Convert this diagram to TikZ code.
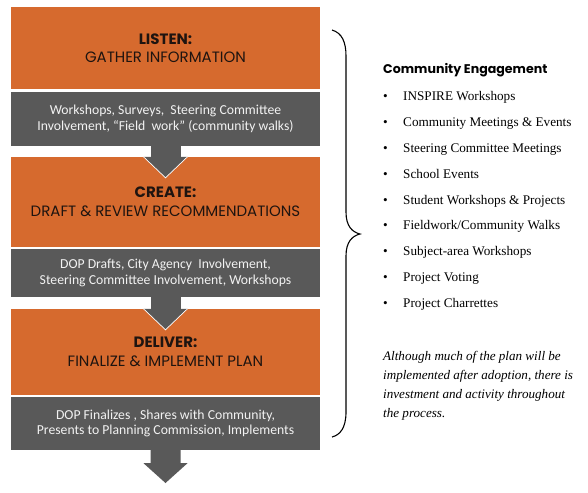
\documentclass[tikz,border=0pt]{standalone}
\usepackage{fontspec}
\setmainfont{Liberation Serif}
\newfontfamily\titlefont{Poppins}
\newfontfamily\infofont{Carlito}
\usetikzlibrary{calc}
\definecolor{stageorange}{HTML}{D66A2E}
\definecolor{infogray}{HTML}{595959}
\definecolor{titleink}{HTML}{1E1410}
\definecolor{infoink}{HTML}{F2F2F2}
\begin{document}
\begin{tikzpicture}[x=1pt,y=-1pt,
  stagebox/.style={fill=stageorange, minimum width=309pt, inner sep=0pt, align=center,
    text=titleink, font=\titlefont\fontsize{15}{18.5}\selectfont},
  infobox/.style={fill=infogray, minimum width=309pt, inner sep=0pt, align=center,
    text=infoink, font=\infofont\fontsize{13.7}{15.5}\selectfont},
  itemtext/.style={anchor=base west, inner sep=0pt, font=\fontsize{13.2}{15}\selectfont},
  flowarrow/.style={fill=infogray}]
\useasboundingbox (0,0) rectangle (588,492);
\fill[white] (0,0) rectangle (588,492);
% stage boxes
\node[stagebox, minimum height=82pt] (listen) at (165.5,48) {\textbf{LISTEN:}\\GATHER INFORMATION};
\node[infobox, minimum height=54pt] (info1) at (165.5,119) {Workshops, Surveys,\ \ Steering Committee\\Involvement, “Field\ \ work” (community walks)};
\node[stagebox, minimum height=90pt] (create) at (165.5,202) {\textbf{CREATE:}\\DRAFT \& REVIEW RECOMMENDATIONS};
\node[infobox, minimum height=48pt] (info2) at (165.5,273) {DOP Drafts, City Agency\ \ Involvement,\\Steering Committee Involvement, Workshops};
\node[stagebox, minimum height=86pt] (deliver) at (165.5,352) {\textbf{DELIVER:}\\FINALIZE \& IMPLEMENT PLAN};
\node[infobox, minimum height=53pt] (info3) at (165.5,423.5) {DOP Finalizes , Shares with Community,\\Presents to Planning Commission, Implements};
% arrows
\foreach \a/\b in {info1/create, info2/deliver}{
  \fill[flowarrow] ($(\a.south)+(-15,0)$) rectangle ($(\b.north)+(15,1)$);
  \fill[flowarrow] ($(\b.north)+(-22,0)$) -- ($(\b.north)+(0,21)$) -- ($(\b.north)+(22,0)$) -- cycle;
  \draw[white, line width=0.7pt] ($(\b.north)+(-22,0)$) -- ($(\b.north)+(0,21)$) -- ($(\b.north)+(22,0)$);
}
\coordinate (endtip) at (165.5,483);
\fill[flowarrow] ($(info3.south)+(-15,0)$) -- ($(info3.south)+(-15,13)$) -- ($(info3.south)+(-22,13)$)
  -- (endtip) -- ($(info3.south)+(22,13)$) -- ($(info3.south)+(15,13)$) -- ($(info3.south)+(15,0)$) -- cycle;
% brace
\draw[line width=1.1pt] (332,30) .. controls (342,33) and (346,42) .. (346,56) -- (346,212)
  .. controls (346,226) and (352,232) .. (360,234)
  .. controls (352,236) and (346,242) .. (346,256) -- (346,412)
  .. controls (346,428) and (340,435) .. (332,437);
% right column
\node[anchor=base west, inner sep=0pt, font=\titlefont\bfseries\fontsize{12.6}{14}\selectfont] (heading) at (383,74) {Community Engagement};
\foreach \t [count=\i from 0] in {INSPIRE Workshops, Community Meetings \& Events, Steering Committee Meetings, School Events, Student Workshops \& Projects, Fieldwork/Community Walks, Subject-area Workshops, Project Voting, Project Charrettes}{
  \node[itemtext] (bul\i) at (383,101+25.75*\i) {\textbullet};
  \node[itemtext] (item\i) at (403,101+25.75*\i) {\t};
}
\node[anchor=north west, inner sep=0pt, align=left, font=\itshape\fontsize{13.1}{19}\selectfont] (note) at (383,351)
  {Although much of the plan will be\\implemented after adoption, there is\\investment and activity throughout\\the process.};
\end{tikzpicture}
\end{document}
